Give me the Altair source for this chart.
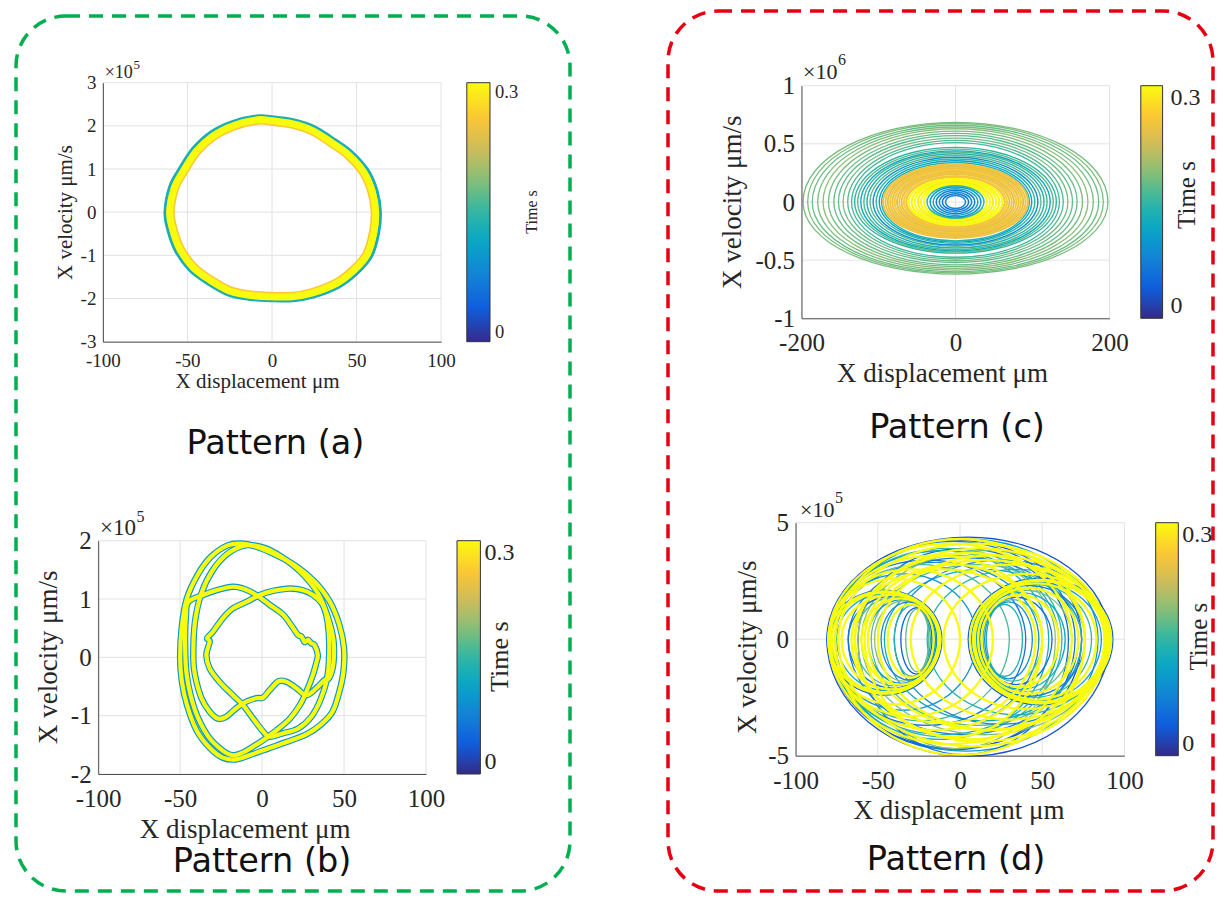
import altair as alt
import pandas as pd

SERIF = "Liberation Serif"
SANS = "DejaVu Sans"
INK = "#262626"
GRID = "#e2e2e2"
H = 886

# colour map (parula-like) for time 0 .. 0.3 s
T_STOPS = [0, 0.0375, 0.075, 0.1125, 0.15, 0.1875, 0.225, 0.2625, 0.3]
PARULA = ["#352A87", "#0F5CDD", "#1481D6", "#06A4CA", "#2EB7A4",
          "#87BF77", "#D1BB59", "#FEC832", "#F9FB0E"]

# ---------------- Pattern (a): single limit cycle ----------------
A_OUT_X = [-63.3, -60.5, -55.2, -46.8, -36.2, -23.5, -8.8, -0.3, 12.4, 25.0, 37.7, 47.2, 56.7, 62.0,
           64.1, 63.0, 58.8, 50.4, 39.8, 25.0, 12.4, -0.3, -13.0, -25.7, -38.3, -48.9, -57.3, -61.6]
A_OUT_Y = [0.01, 0.59, 0.98, 1.48, 1.86, 2.10, 2.23, 2.21, 2.14, 1.98, 1.67, 1.40, 0.98, 0.51,
           0.01, -0.49, -1.03, -1.42, -1.73, -1.96, -2.05, -2.05, -2.02, -1.92, -1.65, -1.34, -0.88, -0.41]
A_IN_X = [-60.5, -57.8, -52.8, -44.8, -34.8, -22.6, -8.5, -0.3, 11.9, 24.0, 36.2, 45.3, 54.3, 59.3,
          61.3, 60.3, 56.3, 48.3, 38.2, 24.0, 11.9, -0.3, -12.5, -24.7, -36.8, -46.9, -54.8, -58.9]
A_IN_Y = [0.01, 0.56, 0.93, 1.41, 1.77, 2.01, 2.14, 2.12, 2.05, 1.89, 1.59, 1.33, 0.93, 0.48,
          0.01, -0.46, -0.98, -1.35, -1.65, -1.87, -1.96, -1.96, -1.93, -1.83, -1.57, -1.27, -0.83, -0.38]

# ---------------- Pattern (b): multi-loop orbit ----------------
B1_X = [-50, -49, -46, -39, -31, -21, -12.7, -4, 8, 21, 32, 41, 47, 50, 49.6, 47, 43, 36, 27, 15, 4,
        -7, -16, -24, -32, -40, -46, -49]
B1_Y = [0.0, 0.52, 1.0, 1.43, 1.73, 1.92, 1.95, 1.9, 1.76, 1.56, 1.3, 0.97, 0.57, 0.15, -0.25, -0.6,
        -0.93, -1.15, -1.32, -1.45, -1.56, -1.67, -1.75, -1.72, -1.55, -1.25, -0.8, -0.4]
B2_X = [-42, -41, -37, -30, -21, -10, 1, 12, 24, 34, 40, 43.5, 43.5, 41, 38, 33, 27, 21, 15, 10, 4.7,
        0.6, -3.5, -9.6, -15.7, -22, -27, -32, -37, -41]
B2_Y = [0.0, 0.6, 1.1, 1.5, 1.78, 1.92, 1.88, 1.72, 1.45, 1.1, 0.7, 0.3, -0.1, -0.35, -0.39, -0.53,
        -0.65, -0.53, -0.42, -0.41, -0.56, -0.69, -0.7, -0.76, -0.87, -1.02, -1.05, -0.93, -0.7, -0.3]
B3_X = [-34, -32, -33.5, -30, -24, -17.8, -9.6, -1.4, 6.7, 17, 25, 31, 37, 40, 41, 40, 36, 30, 22,
        13, 4.7, 0.6, -5.5, -11.6, -17.8, -26, -32]
B3_Y = [0.04, 0.27, 0.33, 0.44, 0.67, 0.84, 0.95, 1.07, 1.14, 1.18, 1.15, 1.07, 0.9, 0.6, 0.2, -0.3,
        -0.7, -1.02, -1.22, -1.3, -1.36, -1.27, -1.05, -0.82, -0.65, -0.42, -0.19]
B4_X = [-45, -36, -28, -17.8, -11.6, -3.5, 4.7, 12.9, 19, 22, 24, 26, 28, 30, 32, 34, 33, 31, 27, 23,
        17, 8.8, 0.6, -5.5, -11.6, -17.8, -24, -33, -41, -46, -47, -46.5]
B4_Y = [0.95, 1.07, 1.15, 1.21, 1.18, 1.07, 0.9, 0.73, 0.5, 0.38, 0.36, 0.26, 0.30, 0.24, 0.21, 0.04,
        -0.1, -0.3, -0.59, -0.82, -1.05, -1.25, -1.42, -1.53, -1.63, -1.68, -1.6, -1.35, -0.9, -0.3,
        0.3, 0.7]

# unit loop shape used for the ring-like orbits of (c) and (d)
UNIT_X = [1, 0.924, 0.707, 0.383, 0, -0.383, -0.707, -0.924, -1, -0.924, -0.707, -0.383, 0, 0.383, 0.707, 0.924]
UNIT_Y = [0, 0.383, 0.707, 0.924, 1, 0.924, 0.707, 0.383, 0, -0.383, -0.707, -0.924, -1, -0.924, -0.707, -0.383]

# ---------------- Pattern (c): rings (half-width, top, bottom, time) ----------------
C_GREEN_RX = [198, 192, 186, 179, 172, 165, 158, 152, 146, 140, 135]
C_GREEN_TOP = [0.685, 0.675, 0.66, 0.645, 0.63, 0.61, 0.59, 0.57, 0.55, 0.53, 0.51]
C_GREEN_BOT = [0.62, 0.61, 0.60, 0.585, 0.57, 0.555, 0.54, 0.52, 0.505, 0.49, 0.475]
C_GREEN_T = [0.18, 0.185, 0.175, 0.18, 0.19, 0.18, 0.175, 0.17, 0.18, 0.165, 0.16]
C_TEAL_RX = [131, 127, 123, 119, 115, 111, 107, 103, 99, 96]
C_TEAL_TOP = [0.47, 0.455, 0.44, 0.43, 0.415, 0.40, 0.385, 0.37, 0.355, 0.34]
C_TEAL_BOT = [0.44, 0.43, 0.42, 0.41, 0.395, 0.38, 0.37, 0.355, 0.345, 0.335]
C_TEAL_T = [0.15, 0.17, 0.12, 0.16, 0.14, 0.17, 0.09, 0.15, 0.11, 0.14]
C_ORANGE_RX = [94, 91, 88, 85, 82, 79, 76, 73, 70, 67, 64]
C_ORANGE_TOP = [0.325, 0.315, 0.305, 0.295, 0.285, 0.275, 0.26, 0.25, 0.24, 0.225, 0.215]
C_ORANGE_BOT = [0.31, 0.30, 0.29, 0.28, 0.27, 0.26, 0.25, 0.24, 0.23, 0.22, 0.21]
C_ORANGE_T = [0.245, 0.255, 0.24, 0.255, 0.245, 0.26, 0.24, 0.255, 0.245, 0.26, 0.25]
C_YELLOW_RX = [61, 57, 53, 49, 45, 41]
C_YELLOW_TOP = [0.2, 0.19, 0.18, 0.17, 0.16, 0.15]
C_YELLOW_BOT = [0.2, 0.19, 0.175, 0.165, 0.155, 0.145]
C_YELLOW_T = [0.3, 0.295, 0.3, 0.29, 0.3, 0.3]
C_CORE_RX = [37, 33, 29, 25, 21, 17, 13]
C_CORE_TOP = [0.14, 0.13, 0.115, 0.1, 0.085, 0.07, 0.055]
C_CORE_BOT = [0.14, 0.13, 0.115, 0.1, 0.085, 0.07, 0.055]
C_CORE_T = [0.15, 0.1, 0.12, 0.07, 0.09, 0.06, 0.08]

# ---------------- Pattern (d): loops (left edge, right edge, top, bottom, time) ----------------
# outermost dark loops outlining the whole orbit
D_EDGE_LEFT = [-81, -81, 5, -78]
D_EDGE_RIGHT = [91, -11, 93, 70]
D_EDGE_TOP = [4.38, 2.1, 2.62, 4.2]
D_EDGE_BOT = [5.02, 2.4, 2.82, 4.75]
D_EDGE_T = [0.03, 0.05, 0.04, 0.06]
# left lobe: right edges bunched near -15, left edges spread
D_LL_LEFT = [-80, -78, -75, -72, -68, -64, -60, -56, -52, -48, -44, -40, -36, -33]
D_LL_RIGHT = [-12, -13, -15, -12, -14, -16, -13, -15, -17, -14, -16, -18, -17, -19]
D_LL_TOP = [2.05, 2.0, 1.95, 1.9, 1.85, 1.8, 1.75, 1.7, 1.65, 1.6, 1.5, 1.45, 1.35, 1.3]
D_LL_BOT = [2.33, 2.28, 2.2, 2.15, 2.1, 2.0, 1.95, 1.9, 1.8, 1.75, 1.65, 1.6, 1.5, 1.4]
D_LL_T = [0.3, 0.3, 0.13, 0.3, 0.06, 0.16, 0.3, 0.1, 0.19, 0.08, 0.3, 0.14, 0.04, 0.17]
# right lobe: left edges bunched near +10, right edges spread
D_RR_LEFT = [6, 8, 7, 9, 10, 8, 11, 12, 10, 13, 12, 14, 15, 16]
D_RR_RIGHT = [92, 89, 86, 83, 80, 76, 72, 68, 64, 60, 56, 50, 44, 38]
D_RR_TOP = [2.55, 2.5, 2.45, 2.4, 2.35, 2.3, 2.2, 2.1, 2.0, 1.9, 1.8, 1.7, 1.6, 1.5]
D_RR_BOT = [2.75, 2.7, 2.65, 2.6, 2.5, 2.45, 2.35, 2.25, 2.15, 2.05, 1.95, 1.8, 1.7, 1.6]
D_RR_T = [0.3, 0.3, 0.1, 0.3, 0.15, 0.07, 0.3, 0.18, 0.12, 0.3, 0.05, 0.16, 0.09, 0.13]
# large loops spanning both lobes (form the cross-hatched top and bottom)
D_BIG_LEFT = [-80, -80, -76, -76, -74, -78, -64, -62, -62, -64, -78, -56, -76, -54, -58, -46, -66, -68]
D_BIG_RIGHT = [68, 74, 76, 84, 90, 54, 88, 66, 58, 76, 62, 88, 48, 74, 50, 74, 46, 72]
D_BIG_TOP = [4.1, 4.25, 4.3, 4.3, 4.1, 3.8, 3.9, 3.9, 3.6, 3.7, 3.9, 3.4, 3.3, 3.2, 3.2, 3.0, 3.0, 3.5]
D_BIG_BOT = [4.5, 4.7, 4.97, 4.8, 4.6, 4.3, 4.4, 4.95, 4.7, 4.3, 4.2, 3.9, 3.9, 3.7, 4.2, 3.5, 3.6, 4.1]
D_BIG_T = [0.3, 0.03, 0.3, 0.1, 0.3, 0.13, 0.3, 0.05, 0.19, 0.3, 0.15, 0.3, 0.09, 0.17, 0.3, 0.12, 0.3, 0.07]
# loops anchored at the left edge crossing the middle
D_XL_LEFT = [-80, -79, -80, -78, -80, -79, -80]
D_XL_RIGHT = [0, 10, 20, 30, 40, 50, 60]
D_XL_TOP = [2.6, 2.8, 3.0, 3.2, 3.4, 3.6, 3.8]
D_XL_BOT = [2.8, 3.05, 3.3, 3.5, 3.7, 3.9, 4.1]
D_XL_T = [0.3, 0.1, 0.3, 0.16, 0.06, 0.3, 0.13]
# loops anchored at the right edge crossing the middle
D_XR_LEFT = [-10, -20, -30, -40, -50, -60]
D_XR_RIGHT = [90, 89, 91, 90, 89, 90]
D_XR_TOP = [2.8, 3.0, 3.2, 3.4, 3.6, 3.8]
D_XR_BOT = [3.0, 3.25, 3.45, 3.65, 3.9, 4.1]
D_XR_T = [0.3, 0.14, 0.3, 0.08, 0.3, 0.18]


def loops_df(loops):
    rows = []
    for k, (xs, ys, t) in enumerate(loops):
        for i, (x, y) in enumerate(zip(xs, ys)):
            rows.append({"x": x, "y": y, "t": t, "loop": k, "i": i})
    return pd.DataFrame(rows)


def rings_df(lefts, rights, tops, bots, ts, keep=lambda t: True, tag=""):
    rows = []
    for k, (l, r, tp, bt, t) in enumerate(zip(lefts, rights, tops, bots, ts)):
        if not keep(t):
            continue
        cx = (l + r) / 2.0
        rx = (r - l) / 2.0
        for i, (ux, uy) in enumerate(zip(UNIT_X, UNIT_Y)):
            rows.append({"x": cx + rx * ux, "y": uy * (tp if uy >= 0 else bt),
                         "t": t, "loop": f"{tag}{k}", "i": i})
    return pd.DataFrame(rows)


def sym(rx):
    return [-r for r in rx], list(rx)


def panel(p, line_layers):
    xs = alt.Scale(domain=p["xdom"], range=p["xr"], nice=False, zero=False)
    ys = alt.Scale(domain=p["ydom"], range=p["yr"], nice=False, zero=False)
    xaxis = alt.Axis(orient="bottom", offset=p["yr"][0] - H, values=p["xt"], grid=False, ticks=False,
                     tickSize=0, domain=True, domainColor="#505050", domainWidth=1, labelFont=SERIF,
                     labelFontSize=p["tick_fs"], labelColor=INK, labelPadding=p["xlab_pad"],
                     labelFlush=False, labelOverlap=False, labelExpr="toString(datum.value)",
                     title="X displacement μm", titleFont=SERIF, titleFontSize=p["title_fs"],
                     titleFontWeight="normal", titleColor=INK, titleX=p["xtitle_x"],
                     titleY=p["xtitle_y"], titleAlign="center", titleBaseline="middle", zindex=1)
    yaxis = alt.Axis(orient="left", offset=-p["xr"][0], values=p["yt"], grid=False, ticks=False,
                     tickSize=0, domain=True, domainColor="#505050", domainWidth=1, labelFont=SERIF,
                     labelFontSize=p["tick_fs"], labelColor=INK, labelPadding=p["ylab_pad"],
                     labelFlush=False, labelOverlap=False, labelExpr="toString(datum.value)",
                     title="X velocity μm/s", titleFont=SERIF, titleFontSize=p["title_fs"],
                     titleFontWeight="normal", titleColor=INK, titleX=p["ytitle_x"],
                     titleY=p["ytitle_y"], titleAlign="center", titleBaseline="middle", titleAngle=270,
                     zindex=1)
    cscale = alt.Scale(type="linear", domain=T_STOPS, range=PARULA, interpolate="rgb")
    legend = alt.Legend(orient="none", legendX=p["leg_x"], legendY=p["leg_y"], direction="vertical",
                        gradientLength=p["leg_len"], gradientThickness=p["leg_th"], title=None,
                        values=[0, 0.3], format="~g", labelFont=SERIF, labelFontSize=p["leg_fs"],
                        labelColor=INK, labelOffset=p["leg_off"], labelBaseline="middle",
                        gradientStrokeColor="#333333", gradientStrokeWidth=1, padding=0)

    n = len(p["xt"])
    m = len(p["yt"])
    gv = pd.DataFrame({"x": p["xt"], "y": [p["ydom"][0]] * n, "y2": [p["ydom"][1]] * n})
    gh = pd.DataFrame({"y": p["yt"], "x": [p["xdom"][0]] * m, "x2": [p["xdom"][1]] * m})
    grid_v = alt.Chart(gv).mark_rule(color=GRID, strokeWidth=1).encode(
        x=alt.X("x:Q", scale=xs, axis=xaxis), y=alt.Y("y:Q", scale=ys, axis=yaxis), y2="y2:Q")
    grid_h = alt.Chart(gh).mark_rule(color=GRID, strokeWidth=1).encode(
        x=alt.X("x:Q", scale=xs, axis=xaxis), x2="x2:Q", y=alt.Y("y:Q", scale=ys, axis=yaxis))
    layers = [grid_v, grid_h]
    for df, w in line_layers:
        layers.append(
            alt.Chart(df).mark_line(interpolate="cardinal-closed", strokeWidth=w, strokeCap="round",
                                    strokeJoin="round").encode(
                x=alt.X("x:Q", scale=xs, axis=xaxis),
                y=alt.Y("y:Q", scale=ys, axis=yaxis),
                color=alt.Color("t:Q", scale=cscale, legend=legend),
                detail="loop:N",
                order="i:Q",
            )
        )
    return alt.layer(*layers)


PA = dict(xdom=[-100, 100], ydom=[-3, 3], xr=[94.9, 433.1], yr=[333.7, 74.7],
          xt=[-100, -50, 0, 50, 100], yt=[-3, -2, -1, 0, 1, 2, 3], tick_fs=19, title_fs=21,
          xlab_pad=10, ylab_pad=7, xtitle_x=249, xtitle_y=40, ytitle_x=-37, ytitle_y=204,
          leg_x=458.8, leg_y=74.7, leg_len=259, leg_th=23.2, leg_fs=18.5, leg_off=5)
PB = dict(xdom=[-100, 100], ydom=[-2, 2], xr=[90.2, 418.0], yr=[766.0, 532.7],
          xt=[-100, -50, 0, 50, 100], yt=[-2, -1, 0, 1, 2], tick_fs=25, title_fs=27,
          xlab_pad=12, ylab_pad=7, xtitle_x=236.6, xtitle_y=55, ytitle_x=-50, ytitle_y=648.7,
          leg_x=449, leg_y=532.7, leg_len=233.3, leg_th=23.4, leg_fs=24, leg_off=4)
PC = dict(xdom=[-200, 200], ydom=[-1, 1], xr=[793.5, 1101.5], yr=[310.3, 77.7],
          xt=[-200, 0, 200], yt=[-1, -0.5, 0, 0.5, 1], tick_fs=25, title_fs=27,
          xlab_pad=12, ylab_pad=7, xtitle_x=934, xtitle_y=55, ytitle_x=-69.5, ytitle_y=193.7,
          leg_x=1132.8, leg_y=77.7, leg_len=232.6, leg_th=21.8, leg_fs=24, leg_off=8)
PD = dict(xdom=[-100, 100], ydom=[-5, 5], xr=[787.6, 1116.4], yr=[747.7, 514.7],
          xt=[-100, -50, 0, 50, 100], yt=[-5, 0, 5], tick_fs=25, title_fs=27,
          xlab_pad=13, ylab_pad=7, xtitle_x=950.5, xtitle_y=55, ytitle_x=-48, ytitle_y=638.7,
          leg_x=1147.7, leg_y=514.7, leg_len=233, leg_th=22.6, leg_fs=24, leg_off=4)

# panel (a)
pa = panel(PA, [
    (loops_df([(A_IN_X, A_IN_Y, 0.26)]), 10),
    (loops_df([(A_OUT_X, A_OUT_Y, 0.13)]), 3),
    (loops_df([(A_IN_X, A_IN_Y, 0.3)]), 7),
])

# panel (b)
B_LOOPS = [(B1_X, B1_Y), (B2_X, B2_Y), (B3_X, B3_Y), (B4_X, B4_Y)]
pb = panel(PB, [
    (loops_df([(x, y, 0.1) for x, y in B_LOOPS]), 6.5),
    (loops_df([(x, y, 0.3) for x, y in B_LOOPS]), 4.2),
])

# panel (c)
pc = panel(PC, [
    (rings_df(*sym(C_GREEN_RX), C_GREEN_TOP, C_GREEN_BOT, C_GREEN_T, tag="g"), 1.3),
    (rings_df(*sym(C_TEAL_RX), C_TEAL_TOP, C_TEAL_BOT, C_TEAL_T, tag="b"), 1.4),
    (rings_df(*sym(C_ORANGE_RX), C_ORANGE_TOP, C_ORANGE_BOT, C_ORANGE_T, tag="o"), 1.9),
    (rings_df(*sym(C_YELLOW_RX), C_YELLOW_TOP, C_YELLOW_BOT, C_YELLOW_T, tag="y"), 2.0),
    (rings_df(*sym(C_CORE_RX), C_CORE_TOP, C_CORE_BOT, C_CORE_T, tag="c"), 1.5),
])

# panel (d)
D_SETS = [(D_EDGE_LEFT, D_EDGE_RIGHT, D_EDGE_TOP, D_EDGE_BOT, D_EDGE_T, "e"),
          (D_BIG_LEFT, D_BIG_RIGHT, D_BIG_TOP, D_BIG_BOT, D_BIG_T, "b"),
          (D_XL_LEFT, D_XL_RIGHT, D_XL_TOP, D_XL_BOT, D_XL_T, "m"),
          (D_XR_LEFT, D_XR_RIGHT, D_XR_TOP, D_XR_BOT, D_XR_T, "n"),
          (D_LL_LEFT, D_LL_RIGHT, D_LL_TOP, D_LL_BOT, D_LL_T, "l"),
          (D_RR_LEFT, D_RR_RIGHT, D_RR_TOP, D_RR_BOT, D_RR_T, "r")]
pd_ = panel(PD, [
    (pd.concat([rings_df(l, r, tp, bt, t, keep=lambda v: v < 0.3, tag=g) for l, r, tp, bt, t, g in D_SETS]), 1.3),
    (pd.concat([rings_df(l, r, tp, bt, t, keep=lambda v: v >= 0.3, tag=g.upper()) for l, r, tp, bt, t, g in D_SETS]), 2.3),
])

ONE = alt.Data(values=[{"k": 1}])


def note(text, x, y, size, font=SERIF, angle=0, align="left", baseline="alphabetic", color=INK):
    return alt.Chart(ONE).mark_text(text=text, font=font, fontSize=size, angle=angle, align=align,
                                    baseline=baseline, color=color).encode(
        x=alt.value(x), y=alt.value(y))


def box(x0, x1, y0, y1, color):
    return alt.Chart(ONE).mark_rect(filled=False, stroke=color, strokeWidth=3.5, strokeDash=[14, 9],
                                    cornerRadius=50).encode(
        x=alt.value(x0), x2=alt.value(x1), y=alt.value(y0), y2=alt.value(y1))


# plain white sheet under the plotted marks
sheet = alt.Chart(ONE).mark_rect(fill="white", stroke="white", strokeWidth=6).encode(
    x=alt.value(-3), x2=alt.value(1211), y=alt.value(-3), y2=alt.value(889))

decor = [
    box(8, 562, 8, 883, "#00B050"),
    box(660, 1205, 3, 883, "#E60012"),
    # exponent labels
    note("×10", 96.7, 70, 18), note("5", 125.5, 61, 13),
    note("×10", 92, 527, 23), note("5", 128.5, 514, 16),
    note("×10", 795, 71, 22), note("6", 830, 57, 16),
    note("×10", 792, 509, 22), note("5", 827, 495, 16),
    # colour bar titles
    note("Time s", 524, 204, 16, angle=270, align="center", baseline="middle"),
    note("Time s", 492, 648.7, 26, angle=270, align="center", baseline="middle"),
    note("Time s", 1179, 187, 25, angle=270, align="center", baseline="middle"),
    note("Time s", 1191, 628.7, 25, angle=270, align="center", baseline="middle"),
    # pattern captions
    note("Pattern (a)", 267.5, 436, 33.5, font=SANS, align="center", baseline="middle", color="#111111"),
    note("Pattern (b)", 254, 854, 33.5, font=SANS, align="center", baseline="middle", color="#111111"),
    note("Pattern (c)", 949, 420, 33.5, font=SANS, align="center", baseline="middle", color="#111111"),
    note("Pattern (d)", 948, 852, 33.5, font=SANS, align="center", baseline="middle", color="#111111"),
]

chart = alt.layer(sheet, pa, pb, pc, pd_, *decor).resolve_scale(
    x="independent", y="independent", color="independent"
).properties(
    width=1208, height=886, padding=0, autosize=alt.AutoSizeParams(type="none")
).configure_view(stroke=None, strokeWidth=0).configure_axis(
    domain=False, grid=False, ticks=False
).configure(background="white")

chart.save("out.html", embed_options={"renderer": "svg", "actions": False})
